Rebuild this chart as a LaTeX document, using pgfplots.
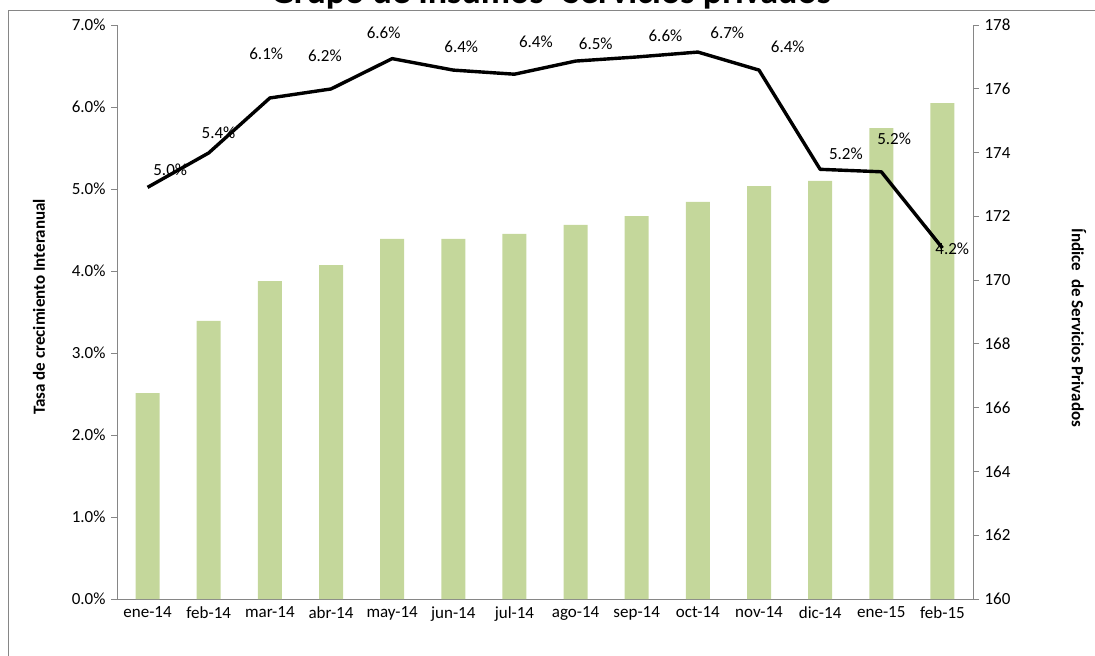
\documentclass[border=0pt]{standalone}
\usepackage{pgfplots}
\pgfplotsset{compat=1.18}
\usepackage{fontspec}
\setmainfont{Carlito}
\definecolor{barg}{RGB}{196,215,155}
\definecolor{axg}{RGB}{134,134,134}
\newcommand{\fs}{\fontsize{17bp}{20bp}\selectfont}
\begin{document}
\begin{tikzpicture}[x=1bp,y=1bp]
\pgfplotsset{
 common/.style={
  at={(117bp,-599bp)}, anchor=south west,
  width=856bp, height=574bp, scale only axis,
  xmin=-0.5, xmax=13.5,
  axis line style={axg, line width=0.9bp},
  tick style={axg, line width=0.9bp},
  major tick length=6bp,
  tick align=outside,
  tick label style={font=\fs, black},
  /pgf/number format/assume math mode=true,
 }
}
\begin{axis}[common,
  axis x line*=bottom, axis y line*=right,
  ymin=160, ymax=178, ytick={160,162,...,178},
  xtick={0,...,13},
  xticklabels={ene-14,feb-14,mar-14,abr-14,may-14,jun-14,jul-14,ago-14,sep-14,oct-14,nov-14,dic-14,ene-15,feb-15},
  x tick style={draw=none},
  xticklabel style={yshift=2bp},
  ytick pos=right,
  yticklabel style={xshift=2bp},
 ]
\addplot[ybar, bar width=24bp, fill=barg, draw=none] coordinates {
(0,166.46) (1,168.72) (2,169.97) (3,170.47) (4,171.29) (5,171.29) (6,171.45)
(7,171.73) (8,172.01) (9,172.45) (10,172.95) (11,173.11) (12,174.77) (13,175.55)};
\end{axis}
\begin{axis}[common,
  axis x line=none, axis y line*=left,
  ymin=0, ymax=7, ytick={0,...,7},
  yticklabels={0.0\%,1.0\%,2.0\%,3.0\%,4.0\%,5.0\%,6.0\%,7.0\%},
  ytick pos=left,
  yticklabel style={xshift=-2bp},
  clip=false,
 ]
\addplot[black, line width=3.4bp, line join=round, mark=none] coordinates {
(0,5.02) (1,5.44) (2,6.11) (3,6.22) (4,6.59) (5,6.45) (6,6.40)
(7,6.56) (8,6.61) (9,6.67) (10,6.45) (11,5.24) (12,5.21) (13,4.28)};
\addplot[draw=none, mark=none, nodes near coords, point meta=explicit symbolic,
  nodes near coords style={anchor=center, font=\fs, inner sep=0pt}] coordinates {
(0.37,5.23) [5.0\%]
(1.16,5.68) [5.4\%]
(1.94,6.65) [6.1\%]
(2.90,6.63) [6.2\%]
(3.86,6.90) [6.6\%]
(5.13,6.73) [6.4\%]
(6.35,6.79) [6.4\%]
(7.33,6.77) [6.5\%]
(8.47,6.87) [6.6\%]
(9.48,6.90) [6.7\%]
(10.47,6.74) [6.4\%]
(11.42,5.43) [5.2\%]
(12.21,5.61) [5.2\%]
(13.16,4.27) [4.2\%]
};
\end{axis}
\node[rotate=90, font=\fs\bfseries] at (39,-307) {Tasa de crecimiento Interanual};
\node[rotate=-90, font=\fs\bfseries] at (1079,-328) {Índice\ \ de Servicios Privados};
\draw[axg, line width=0.9bp] (8,-700) -- (8,-10) -- (1200,-10);
\node[anchor=base, font=\fontsize{36bp}{40bp}\selectfont\bfseries] at (551,-4) {Grupo de Insumos- Servicios privados};
\pgfresetboundingbox
\useasboundingbox (0,0) rectangle (1095,-656);
\end{tikzpicture}
\end{document}
